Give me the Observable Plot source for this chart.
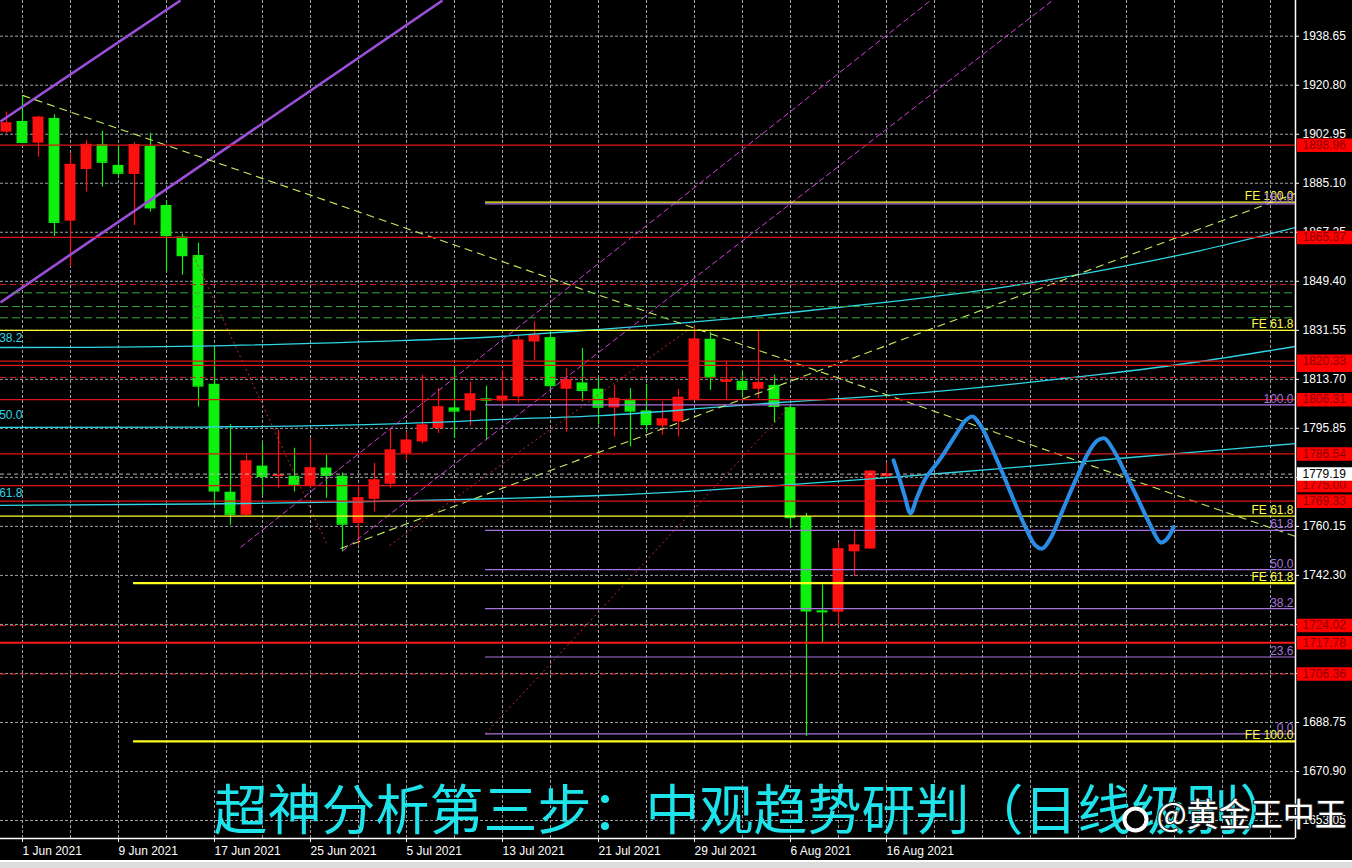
<!DOCTYPE html>
<html><head><meta charset="utf-8">
<script src="https://cdn.jsdelivr.net/npm/d3@7"></script>
<script src="https://cdn.jsdelivr.net/npm/@observablehq/plot@0.6"></script>
<style>
html,body{margin:0;padding:0;background:#000;overflow:hidden;}
#wrap{position:relative;width:1352px;height:868px;}
#strip{position:absolute;left:0;top:860px;width:1352px;height:8px;background:#dcdcdc;border-top:2px solid #fff;}
</style></head><body><div id="wrap"><div id="chart"></div><div id="strip"></div></div>
<script>
// ---------- data ----------
const dates = ["2021-05-31","2021-06-01","2021-06-02","2021-06-03","2021-06-04","2021-06-07","2021-06-08","2021-06-09","2021-06-10","2021-06-11",
"2021-06-14","2021-06-15","2021-06-16","2021-06-17","2021-06-18","2021-06-21","2021-06-22","2021-06-23","2021-06-24","2021-06-25",
"2021-06-28","2021-06-29","2021-06-30","2021-07-01","2021-07-02","2021-07-05","2021-07-06","2021-07-07","2021-07-08","2021-07-09",
"2021-07-12","2021-07-13","2021-07-14","2021-07-15","2021-07-16","2021-07-19","2021-07-20","2021-07-21","2021-07-22","2021-07-23",
"2021-07-26","2021-07-27","2021-07-28","2021-07-29","2021-07-30","2021-08-02","2021-08-03","2021-08-04","2021-08-05","2021-08-06",
"2021-08-09","2021-08-10","2021-08-11","2021-08-12","2021-08-13","2021-08-16"];
const opens  = [1903.7,1907.6,1899.7,1908.7,1871.3,1890.1,1899.1,1891.6,1888.3,1898.5,1877.0,1865.5,1858.8,1811.9,1772.6,1764.2,1782.1,1778.4,1778.4,1774.8,1781.4,1778.4,1761.2,1770.0,1775.5,1786.7,1790.9,1795.8,1803.3,1802.2,1806.6,1805.8,1807.3,1827.3,1828.9,1810.1,1812.4,1810.1,1803.3,1806.4,1802.2,1796.7,1798.2,1806.1,1828.3,1812.6,1813.0,1810.1,1811.5,1803.4,1763.6,1729.4,1728.9,1750.9,1751.9,1778.2];
const highs  = [1911.0,1917.0,1909.5,1910.1,1895.8,1900.7,1904.1,1898.9,1900.0,1903.3,1878.8,1866.5,1863.3,1825.5,1797.2,1786.7,1790.3,1795.2,1788.6,1792.1,1786.1,1779.6,1775.2,1783.1,1795.4,1794.4,1815.2,1810.3,1818.2,1812.7,1811.2,1817.0,1829.7,1834.6,1831.5,1817.6,1824.9,1814.0,1811.5,1810.3,1811.9,1805.5,1810.0,1832.8,1830.9,1820.0,1816.4,1831.5,1815.2,1804.3,1764.9,1738.8,1754.0,1758.8,1780.4,1783.1];
const lows   = [1903.0,1899.5,1894.6,1865.7,1854.6,1881.9,1883.7,1887.3,1869.7,1874.6,1853.0,1851.6,1803.6,1767.3,1760.6,1764.0,1771.5,1774.1,1772.7,1774.1,1770.4,1750.9,1753.3,1765.4,1774.0,1784.3,1790.1,1794.0,1792.2,1796.6,1791.5,1804.3,1805.1,1820.6,1809.7,1794.5,1805.5,1797.0,1792.7,1789.1,1794.5,1793.4,1792.7,1806.1,1809.7,1806.1,1807.3,1806.7,1797.8,1759.4,1683.6,1717.6,1724.2,1741.8,1751.9,1778.2];
const closes = [1907.0,1900.0,1909.1,1870.9,1891.9,1899.2,1892.8,1888.8,1899.1,1876.2,1866.1,1858.8,1811.3,1773.1,1764.6,1783.9,1778.4,1778.8,1775.2,1781.4,1778.8,1761.0,1770.5,1777.0,1787.9,1791.5,1797.0,1803.6,1802.2,1808.3,1806.2,1807.5,1827.9,1829.7,1811.5,1813.4,1809.7,1803.6,1806.7,1802.2,1797.3,1799.2,1807.1,1828.3,1814.6,1813.4,1810.1,1812.4,1803.9,1763.4,1729.4,1729.1,1751.9,1753.3,1780.2,1779.2];
const firstBar = -1; // 31 May is one bar before 1 Jun

// price axis ticks and date ticks
const priceTicks = [1653.05,1670.90,1688.75,1706.60,1724.45,1742.30,1760.15,1778.00,1795.85,1813.70,1831.55,1849.40,1867.25,1885.10,1902.95,1920.80,1938.65];
const dateTickBars = [0,6,12,18,24,30,36,42,48,54];
const dateTickLabels = ["1 Jun 2021","9 Jun 2021","17 Jun 2021","25 Jun 2021","5 Jul 2021","13 Jul 2021","21 Jul 2021","29 Jul 2021","6 Aug 2021","16 Aug 2021"];

// horizontal levels
const redSolidLevels = [1898.96,1865.37,1820.33,1818.80,1806.31,1786.54,1775.00,1769.33];
const redBoldLevels = [1717.78];
const redDashedLevels = [1848.20,1814.40,1724.02,1706.36];
const greenDashedLevels = [1845.20,1840.20,1836.10];
const feFullLevels = [1831.50,1763.90];
const feUpperLevels = [1878.20];
const feLowerLevels = [1739.50,1681.90];
const feLabelPrices = [1878.20,1831.50,1763.90,1739.50,1681.90];
const feLabelTexts = ["FE 100.0","FE 61.8","FE 61.8","FE 61.8","FE 100.0"];
const fibPrices = [1684.60,1712.60,1730.20,1744.40,1758.70,1804.40,1877.60];
const fibTexts = ["0.0","23.6","38.2","50.0","61.8","100.0","161.8"];
const fibStartBar = 28.94;
const feLowerStartBar = 6.94;
const priceTags = [1898.96,1865.37,1820.33,1806.31,1786.54,1775.00,1769.33,1724.02,1717.78,1706.36];
const hiddenTags = [1818.80];
const bidPrice = 1779.19;

// Fibonacci arcs (cyan)
const arcBars = [-1.375,11.125,23.625,29.875,36.125,42.375,48.625,54.875,61.125,67.375,73.625,79.5625];
const arc382 = [1825.3,1825.8,1827.8,1829.3,1831.9,1834.8,1838.4,1842.4,1847.1,1853.3,1860.6,1869.0];
const arc500 = [1796.2,1796.3,1797.6,1799.1,1800.5,1803.1,1805.8,1808.2,1811.5,1815.5,1820.2,1825.7];
const arc618 = [1767.8,1768.3,1769.4,1770.3,1771.4,1773.2,1775.6,1778.3,1781.2,1784.3,1787.4,1790.3];
const arcLabelTexts = ["38.2","50.0","61.8"];
const arcLabelPrices = [1828.6,1800.5,1772.2];

// trend lines: [bar1, price1, bar2, price2]
const purpleChannel = [[-1.375,1907.6,9.875,1951.65],[-1.375,1841.7,26.25,1951.65]];
const magentaChannel = [[13.625,1752.5,56.75,1951.65],[20.0,1751.2,64.375,1951.65]];
const limeTrend = [[0,1917.1,79.5625,1756.5],[19.875,1752.1,79.5625,1881.4]];
const redDotted = [[10.69,1858.8,19.06,1753.2],[28.94,1684.7,48,1804.2],[22.94,1753.2,41.56,1831.5]];

// hand-drawn forecast path (blue)
const pathBars = [54.44,54.75,55.13,55.5,55.88,56.44,57.38,58.31,58.94,59.38,59.88,60.5,61.13,61.88,62.69,63.31,63.75,64.25,65.0,65.81,66.63,67.19,67.63,68.13,68.94,69.75,70.5,71.13,71.5,71.94];
const pathPrices = [1784.2,1778.7,1771.4,1764.9,1770.3,1777.6,1784.9,1793.3,1798.7,1800.2,1796.9,1789.6,1781.3,1770.7,1759.8,1753.2,1752.1,1755.8,1765.9,1776.9,1787.1,1791.5,1792.2,1788.5,1779.4,1769.6,1760.5,1754.3,1755.4,1759.8];

const titleText = "超神分析第三步：中观趋势研判（日线级别）";
const watermark = "@黄金王中王";

// ---------- build ----------
const X0 = -1.375, X1 = 79.5625, Y0 = 1646.5, Y1 = 1951.65;
const bars = dates.map((d,k)=>({i:k+firstBar, date:d, o:opens[k], h:highs[k], l:lows[k], c:closes[k]}));
const col = d => d.c >= d.o ? "#ff1010" : "#10f010";
const gridBars = d3.range(0, 79, 3);
const toLinks = arr => arr.map(a=>({x1:a[0],y1:a[1],x2:a[2],y2:a[3]}));
const arcs = [];
[arc382,arc500,arc618].forEach((a,k)=>a.forEach((p,j)=>arcs.push({k, x:arcBars[j], y:p})));
const path = pathBars.map((b,j)=>({x:b, y:pathPrices[j]}));
const font = "Liberation Sans, Arial, sans-serif";
// tick labels fully covered by a price tag are not printed (as in the terminal)
const coveredBy = [bidPrice, ...priceTags];
const tickText = d => coveredBy.some(t => Math.abs(t - d) < 1.3) ? "" : d.toFixed(2);

const chart = Plot.plot({
  width: 1352, height: 868,
  marginLeft: 0, marginRight: 57, marginTop: 0, marginBottom: 30,
  style: {background:"#000", color:"#fff", fontFamily: font, fontSize:"12px"},
  x: {type:"linear", domain:[X0,X1]},
  y: {type:"linear", domain:[Y0,Y1]},
  marks: [
    Plot.ruleX(gridBars, {x:d=>d, stroke:"#9aa0a6", strokeDasharray:"3,2", strokeWidth:1}),
    Plot.ruleY(priceTicks, {y:d=>d, stroke:"#9aa0a6", strokeDasharray:"3,2", strokeWidth:1}),
    // candles
    Plot.ruleX(bars, {x:"i", y1:"l", y2:"h", stroke:col, strokeWidth:1.2}),
    Plot.rect(bars, {x1:d=>d.i-0.34, x2:d=>d.i+0.34, y1:"o", y2:"c", fill:col}),
    Plot.ruleY(bars, {y:"c", x1:d=>d.i-0.34, x2:d=>d.i+0.34, stroke:col, strokeWidth:1.5}),
    // arcs
    Plot.line(arcs, {x:"x", y:"y", z:"k", stroke:"#30d5e6", strokeWidth:1.3, curve:"natural", clip:true}),
    // trend lines
    Plot.link(toLinks(purpleChannel), {x1:"x1",y1:"y1",x2:"x2",y2:"y2", stroke:"#9b4fd8", strokeWidth:2.6, clip:true}),
    Plot.link(toLinks(magentaChannel), {x1:"x1",y1:"y1",x2:"x2",y2:"y2", stroke:"#d83ee0", strokeWidth:1, strokeDasharray:"6,3", clip:true}),
    Plot.link(toLinks(limeTrend), {x1:"x1",y1:"y1",x2:"x2",y2:"y2", stroke:"#c4ee5e", strokeWidth:1.1, strokeDasharray:"8,5", clip:true}),
    Plot.link(toLinks(redDotted), {x1:"x1",y1:"y1",x2:"x2",y2:"y2", stroke:"#c82828", strokeWidth:1, strokeDasharray:"2,3", clip:true}),
    // levels
    Plot.ruleY(greenDashedLevels, {y:d=>d, stroke:"#3aa83a", strokeDasharray:"8,4"}),
    Plot.ruleY(redDashedLevels, {y:d=>d, stroke:"#d42020", strokeDasharray:"6,4"}),
    Plot.ruleY(redSolidLevels, {y:d=>d, stroke:"#e01414", strokeWidth:1.2}),
    Plot.ruleY(redBoldLevels, {y:d=>d, stroke:"#ff1a1a", strokeWidth:2}),
    Plot.ruleY([bidPrice], {y:d=>d, stroke:"#b8b8b8", strokeDasharray:"4,3"}),
    Plot.ruleY(fibPrices, {y:d=>d, x1:()=>fibStartBar, x2:()=>X1, stroke:"#a774dc", strokeWidth:1.2}),
    Plot.ruleY(feFullLevels, {y:d=>d, stroke:"#ffff30", strokeWidth:1.2}),
    Plot.ruleY(feUpperLevels, {y:d=>d, x1:()=>fibStartBar, x2:()=>X1, stroke:"#ffff30", strokeWidth:1.2}),
    Plot.ruleY(feLowerLevels, {y:d=>d, x1:()=>feLowerStartBar, x2:()=>X1, stroke:"#ffff20", strokeWidth:2.2}),
    // level labels
    Plot.text(feLabelTexts, {y:(d,k)=>feLabelPrices[k], text:d=>d, frameAnchor:"right", textAnchor:"end", lineAnchor:"bottom", dx:-2, dy:-2, fill:"#ffff40", fontSize:12}),
    Plot.text(fibTexts, {y:(d,k)=>fibPrices[k], text:d=>d, frameAnchor:"right", textAnchor:"end", lineAnchor:"bottom", dx:-2, dy:-2, fill:"#a774dc", fontSize:12}),
    Plot.text(arcLabelTexts, {y:(d,k)=>arcLabelPrices[k], text:d=>d, frameAnchor:"left", textAnchor:"end", dx:22, fill:"#30d5e6", fontSize:12}),
    // axes
    Plot.axisY(priceTicks, {anchor:"right", tickSize:3, tickPadding:4, tickFormat:tickText, fontSize:12, label:null}),
    Plot.axisX(dateTickBars, {anchor:"bottom", tickSize:4, tickPadding:4, textAnchor:"start", tickFormat:d=>dateTickLabels[dateTickBars.indexOf(d)], fontSize:12, label:null}),
    Plot.ruleX([X1], {x:d=>d, stroke:"#fff", strokeWidth:1.5}),
    Plot.ruleY([Y0], {y:d=>d, stroke:"#fff", strokeWidth:1.5}),
    // price tags
    Plot.ruleY(hiddenTags, {y:d=>d, x1:()=>X1+0.12, x2:()=>X1+3.7, stroke:"#ff0000", strokeWidth:13.5}),
    Plot.ruleY(priceTags, {y:d=>d, x1:()=>X1+0.12, x2:()=>X1+3.7, stroke:"#ff0000", strokeWidth:13.5}),
    Plot.text(priceTags, {y:d=>d, text:d=>d.toFixed(2), frameAnchor:"right", textAnchor:"start", dx:7, fill:"#8c0000", fontSize:12}),
    Plot.ruleY([bidPrice], {y:d=>d, x1:()=>X1+0.12, x2:()=>X1+3.7, stroke:"#ffffff", strokeWidth:13.5}),
    Plot.text([bidPrice], {y:d=>d, text:d=>d.toFixed(2), frameAnchor:"right", textAnchor:"start", dx:7, fill:"#000", fontSize:12}),
    // forecast path
    Plot.line(path, {x:"x", y:"y", stroke:"#2b8ce6", strokeWidth:4, curve:"catmull-rom", strokeLinecap:"round", strokeLinejoin:"round"}),
    // title & watermark
    Plot.text([titleText], {text:d=>d, frameAnchor:"bottom-left", textAnchor:"start", lineAnchor:"bottom", dx:213, dy:-9, fontSize:54, fill:"#1fe3ea", fontFamily:"Noto Sans CJK SC"}),
    Plot.dot([0], {frameAnchor:"bottom-left", dx:1135, dy:-19, r:11, stroke:"#fff", strokeWidth:4, fill:"#000"}),
    Plot.text([watermark], {text:d=>d, frameAnchor:"bottom-left", textAnchor:"start", lineAnchor:"bottom", dx:1156, dy:-13, fontSize:32, fill:"#fff", stroke:"#222", strokeWidth:2, paintOrder:"stroke", fontFamily:"Noto Sans CJK SC"})
  ]
});
document.getElementById("chart").appendChild(chart);
</script></body></html>
